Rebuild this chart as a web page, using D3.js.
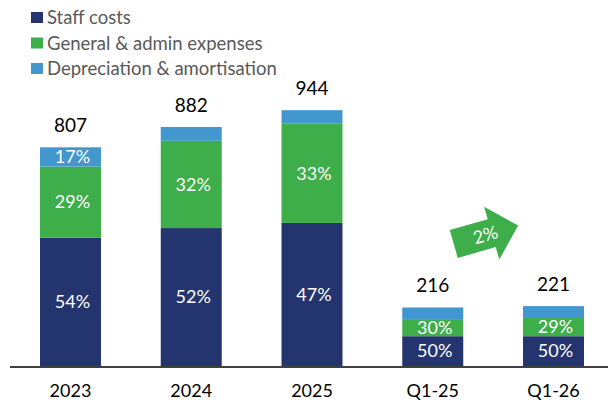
<!DOCTYPE html>
<html>
<head>
<meta charset="utf-8">
<script src="https://cdn.jsdelivr.net/npm/d3@7"></script>
<style>
  body { margin: 0; background: #fff; }
  text { font-family: Lato, "Open Sans", sans-serif; }
</style>
</head>
<body>
<div id="chart"></div>
<script>
// data (EUR m), segments, totals from labels
let periods = ['2023', '2024', '2025', 'Q1-25', 'Q1-26'];
let totals = [807, 882, 944, 216, 221];
let staffCosts = [473, 509, 528, 110, 110];
let generalAdmin = [263, 322, 366, 63, 67];
let depreciation = [71, 51, 50, 43, 44];

// share labels as printed on the bars ('' = no label)
let staffLabels = ['54%', '52%', '47%', '50%', '50%'];
let adminLabels = ['29%', '32%', '33%', '30%', '29%'];
let deprLabels = ['17%', '', '', '', ''];

let seriesNames = ['Staff costs', 'General & admin expenses', 'Depreciation & amortisation'];
let colors = ['#24346e', '#3dae4a', '#4297cf'];
let growthLabel = '2%';

let svgWidth = 608;
let svgHeight = 404;

let $svg = d3.select('#chart')
    .append('svg')
    .attr('width', svgWidth)
    .attr('height', svgHeight);

let xScale = d3.scaleBand()
    .domain(periods)
    .range([40, 584])
    .paddingInner(0.495)
    .paddingOuter(0);

let yScale = d3.scaleLinear()
    .domain([0, 1000])
    .range([366, 95]);

// build stacked rows
let rows = periods.map((p, i) => ({
    period: p,
    staff: staffCosts[i],
    admin: generalAdmin[i],
    depr: depreciation[i]
}));

let keys = ['staff', 'admin', 'depr'];
let stacked = d3.stack().keys(keys)(rows);
let segLabels = [staffLabels, adminLabels, deprLabels];

// bars
stacked.forEach((layer, k) => {
    $svg.append('g')
        .selectAll('rect')
        .data(layer)
        .enter()
        .append('rect')
        .attr('x', d => xScale(d.data.period))
        .attr('width', xScale.bandwidth())
        .attr('y', d => yScale(d[1]))
        .attr('height', d => yScale(d[0]) - yScale(d[1]))
        .attr('fill', colors[k]);
});

// segment labels
stacked.forEach((layer, k) => {
    $svg.append('g')
        .selectAll('text')
        .data(layer)
        .enter()
        .append('text')
        .attr('x', d => xScale(d.data.period) + xScale.bandwidth() / 2 + 2)
        .attr('y', d => (yScale(d[0]) + yScale(d[1])) / 2)
        .attr('dy', '0.35em')
        .attr('text-anchor', 'middle')
        .attr('fill', '#fff')
        .style('font-size', '18px')
        .text((d, i) => segLabels[k][i]);
});

// totals above bars
$svg.append('g')
    .selectAll('text')
    .data(totals)
    .enter()
    .append('text')
    .attr('x', (d, i) => xScale(periods[i]) + xScale.bandwidth() / 2)
    .attr('y', d => yScale(d) - 15)
    .attr('text-anchor', 'middle')
    .attr('fill', '#000')
    .style('font-size', '19px')
    .text(d => d);

// baseline
$svg.append('line')
    .attr('x1', 10)
    .attr('x2', svgWidth)
    .attr('y1', yScale(0) + 1)
    .attr('y2', yScale(0) + 1)
    .attr('stroke', '#000')
    .attr('stroke-width', 1.5);

// x axis labels
let xAxis = d3.axisBottom(xScale).tickSize(0).tickPadding(17);
let $xAxis = $svg.append('g')
    .attr('transform', `translate(0, ${yScale(0) + 1})`)
    .call(xAxis);
$xAxis.select('.domain').remove();
$xAxis.selectAll('text')
    .style('font-family', 'Lato, "Open Sans", sans-serif')
    .style('font-size', '18px')
    .attr('fill', '#000');

// growth arrow between the two quarters
let ax = xScale('Q1-25') + xScale.bandwidth() / 2 + 21;
let ay = yScale(0) - 122;
let $arrow = $svg.append('g')
    .attr('transform', `translate(${ax}, ${ay}) rotate(-16)`);

$arrow.append('path')
    .attr('d', 'M0,-14.5 L39.5,-14.5 L39.5,-27.5 L67,0 L39.5,27.5 L39.5,14.5 L0,14.5 Z')
    .attr('fill', '#3dae4a');

$arrow.append('text')
    .attr('x', 33)
    .attr('y', 0)
    .attr('dy', '0.35em')
    .attr('text-anchor', 'middle')
    .attr('fill', '#fff')
    .style('font-size', '18px')
    .text(growthLabel);

// legend
let $legend = $svg.append('g');
seriesNames.forEach((name, i) => {
    let $row = $legend.append('g')
        .attr('transform', `translate(31, ${12 + i * 25.5})`);
    $row.append('rect')
        .attr('width', 12)
        .attr('height', 11)
        .attr('fill', colors[i]);
    $row.append('text')
        .attr('x', 16)
        .attr('y', 6)
        .attr('dy', '0.35em')
        .attr('fill', '#595959')
        .style('font-size', '18.5px')
        .text(name);
});
</script>
</body>
</html>
